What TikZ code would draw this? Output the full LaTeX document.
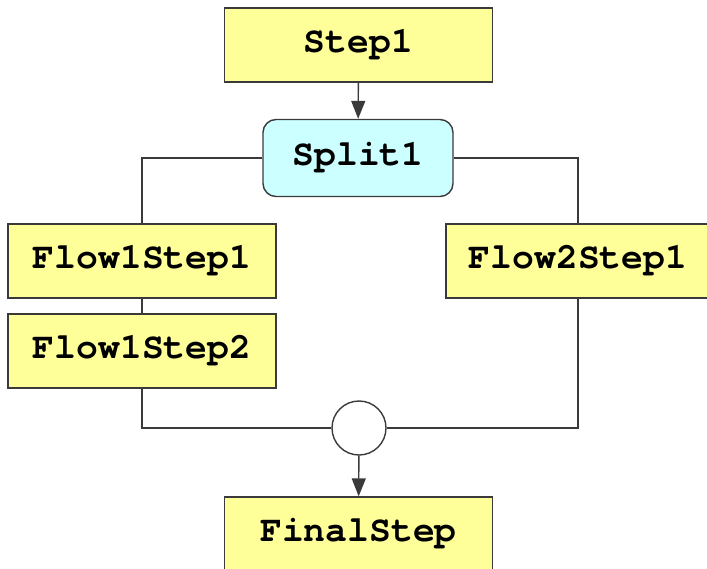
\documentclass[tikz,border=0pt]{standalone}
\usepackage{fontspec}
\setmonofont{TeX Gyre Cursor}
\usetikzlibrary{arrows.meta}
\definecolor{stepfill}{HTML}{FFFF99}
\definecolor{splitfill}{HTML}{CCFFFF}
\definecolor{edgegray}{HTML}{3A3A3A}
\tikzset{
  stepbox/.style={draw=edgegray, line width=1.4bp, fill=stepfill,
    minimum width=268bp, minimum height=74bp, inner sep=0pt,
    font=\ttfamily\bfseries\fontsize{36.5}{40}\selectfont},
  splitbox/.style={stepbox, fill=splitfill, rounded corners=13bp,
    minimum width=190bp, minimum height=77bp},
  joinnode/.style={circle, draw=edgegray, line width=1.4bp, fill=white,
    minimum size=54bp, inner sep=0pt},
  link/.style={draw=edgegray, line width=1.4bp},
  flowarrow/.style={link, -{Triangle[length=18bp,width=14bp]}}
}
\begin{document}
\begin{tikzpicture}[x=1bp,y=-1bp]
  \useasboundingbox (0,0) rectangle (707,569);
  \begin{scope}
    \clip (0,0) rectangle (707,569);
    \node[stepbox] (step1) at (358.5,45) {Step1};
    \node[splitbox] (split1) at (358,158) {Split1};
    \node[stepbox] (f1s1) at (142,261) {Flow1Step1};
    \node[stepbox] (f1s2) at (142,351) {Flow1Step2};
    \node[stepbox, minimum width=264bp] (f2s1) at (578,261) {Flow2Step1};
    \node[joinnode] (join) at (359,428) {};
    \node[stepbox] (final) at (358.5,534) {FinalStep};

    \draw[flowarrow] (step1) -- (split1);
    \draw[link] (split1.west) -| (f1s1.north);
    \draw[link] (split1.east) -| (f2s1.north);
    \draw[link] (f1s1) -- (f1s2);
    \draw[link] (f1s2.south) |- (join.west);
    \draw[link] (f2s1.south) |- (join.east);
    \draw[flowarrow] (join) -- (final);
  \end{scope}
\end{tikzpicture}
\end{document}
